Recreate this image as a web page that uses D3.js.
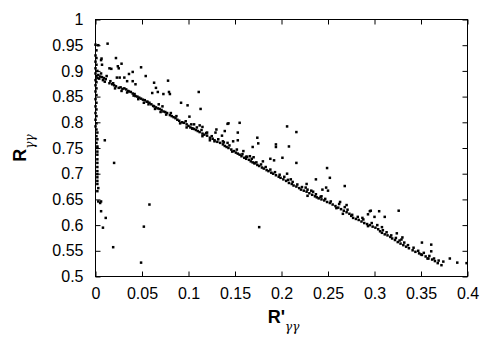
<!DOCTYPE html>
<html>
<head>
<meta charset="utf-8">
<script src="https://cdn.jsdelivr.net/npm/d3@7"></script>
<style>
  html, body { margin: 0; padding: 0; background: #fff; }
  svg { display: block; font-family: "Liberation Sans", Arial, Helvetica, sans-serif; }
</style>
</head>
<body>
<svg id="chart" width="500" height="350"></svg>
<script>
// ---- data ----
const xTicks = [0, 0.05, 0.1, 0.15, 0.2, 0.25, 0.3, 0.35, 0.4];
const yTicks = [0.5, 0.55, 0.6, 0.65, 0.7, 0.75, 0.8, 0.85, 0.9, 0.95, 1];
const xLabelMain = "R'";
const yLabelMain = "R";
const subLabel = "γγ";

// points along the x≈0 column
const leftColumn = [
  [0,0.951],[0.001,0.94],[0,0.93],[0.001,0.925],[0,0.918],[0.001,0.912],[0,0.905],[0.002,0.9],
  [0,0.895],[0.001,0.89],[0.002,0.886],[0,0.882],[0.001,0.878],[0,0.872],[0.001,0.866],[0,0.86],
  [0.001,0.853],[0,0.845],[0.001,0.838],[0,0.831],[0.001,0.825],[0,0.818],[0.001,0.812],[0,0.805],
  [0.001,0.798],[0,0.792],[0.001,0.786],[0.002,0.78],[0.001,0.773],[0.002,0.767],[0.001,0.76],
  [0.002,0.753],[0.002,0.75],[0.002,0.743],[0.002,0.737],[0.002,0.728],[0.002,0.721],[0.002,0.713],
  [0.002,0.705],[0.002,0.699],[0.002,0.693],[0.002,0.686],[0.002,0.68],[0.003,0.672],[0.002,0.666],
  [0.003,0.646],[0.005,0.643],[0.006,0.646]
];

// isolated points, lower left
const lowOutliers = [
  [0.006,0.627],[0.011,0.614],[0.008,0.595],[0.019,0.557],[0.049,0.527],[0.052,0.597],
  [0.058,0.64],[0.02,0.721],[0.01,0.765],[0.176,0.596]
];

// points above/around the band, upper left
const upperLeft = [
  [0.003,0.95],[0.013,0.953],[0.0065,0.924],[0.022,0.925],[0.007,0.912],[0.006,0.921],[0.024,0.909],
  [0.028,0.914],[0.025,0.905],[0.015,0.905],[0.017,0.904],[0.036,0.894],[0.04,0.898],[0.049,0.907],
  [0.054,0.89],[0.023,0.887],[0.026,0.887],[0.031,0.887],[0.034,0.88],[0.04,0.88],[0.043,0.874],
  [0.016,0.88],[0.019,0.876],[0.063,0.877],[0.065,0.867],[0.061,0.857],[0.067,0.859],[0.073,0.855],
  [0.079,0.859],[0.08,0.855],[0.078,0.881],[0.092,0.838],[0.099,0.833],[0.068,0.835],[0.072,0.831],
  [0.111,0.859],[0.113,0.826],[0.101,0.811],
  [0.003,0.892],[0.005,0.889],[0.007,0.888],[0.009,0.886],[0.011,0.884],[0.004,0.885],[0.008,0.882],
  [0.012,0.89],[0.006,0.895],[0.01,0.879]
];

// main dense band
const band = [
  [0.015,0.876],[0.018,0.874],[0.02,0.872],[0.022,0.87],[0.025,0.867],[0.027,0.868],[0.029,0.865],
  [0.031,0.866],[0.033,0.864],[0.035,0.861],[0.036,0.86],[0.038,0.859],[0.04,0.856],[0.042,0.855],
  [0.043,0.851],[0.045,0.85],[0.047,0.848],[0.049,0.846],[0.051,0.844],[0.053,0.843],[0.055,0.84],
  [0.056,0.84],[0.058,0.838],[0.06,0.835],[0.062,0.832],[0.063,0.831],[0.065,0.829],[0.067,0.827],
  [0.069,0.826],[0.071,0.824],[0.073,0.821],[0.075,0.82],[0.077,0.818],[0.08,0.814],[0.082,0.812],
  [0.084,0.81],[0.086,0.808],[0.088,0.805],[0.09,0.803],[0.093,0.8],[0.095,0.799],[0.098,0.796],
  [0.1,0.793],[0.102,0.79],[0.104,0.788],[0.106,0.787],[0.108,0.785],[0.11,0.783],[0.112,0.781],
  [0.115,0.778],[0.117,0.776],[0.12,0.774],[0.123,0.77],[0.126,0.768],[0.128,0.765],[0.131,0.762],
  [0.134,0.76],[0.137,0.757],[0.139,0.754],[0.141,0.752],[0.143,0.75],[0.146,0.747],[0.149,0.744],
  [0.151,0.741],[0.153,0.739],[0.155,0.737],[0.157,0.734],[0.16,0.731],[0.162,0.729],[0.165,0.727],
  [0.167,0.724],[0.169,0.722],[0.171,0.72],[0.174,0.717],[0.176,0.715],[0.179,0.712],[0.181,0.71],
  [0.184,0.707],[0.186,0.705],[0.189,0.702],[0.191,0.7],[0.194,0.697],[0.197,0.694],[0.199,0.692],
  [0.202,0.689],[0.205,0.686],[0.208,0.682],[0.211,0.68],[0.213,0.677],[0.216,0.675],[0.219,0.672],
  [0.221,0.669],[0.224,0.667],[0.227,0.665],[0.23,0.662],[0.233,0.659],[0.236,0.656],[0.238,0.654],
  [0.24,0.652],[0.243,0.65],[0.246,0.648],[0.249,0.645],[0.252,0.643],[0.255,0.64],[0.258,0.637],
  [0.261,0.634],[0.264,0.631],[0.267,0.628],[0.27,0.625],[0.273,0.622],[0.275,0.618],[0.277,0.614],
  [0.28,0.612],[0.283,0.61],[0.286,0.607],[0.289,0.604],[0.292,0.602],[0.295,0.6],[0.298,0.597],
  [0.301,0.595],[0.304,0.592],[0.306,0.588],[0.308,0.585],[0.311,0.582],[0.314,0.58],[0.317,0.577],
  [0.319,0.574],[0.322,0.571],[0.325,0.567],[0.328,0.564],[0.331,0.561],[0.334,0.558],[0.337,0.555],
  [0.341,0.551],[0.344,0.548],[0.348,0.545],[0.351,0.542],[0.355,0.539],[0.358,0.535],[0.362,0.533],
  [0.365,0.53],[0.368,0.526],[0.372,0.522]
];

// second layer of band points (band thickness)
const bandSpread = [
  [0.021,0.866],[0.028,0.861],[0.034,0.858],[0.041,0.852],[0.046,0.845],[0.052,0.838],[0.057,0.835],
  [0.064,0.826],[0.07,0.82],[0.076,0.815],[0.081,0.818],[0.087,0.812],[0.091,0.798],[0.097,0.802],
  [0.103,0.796],[0.109,0.79],[0.114,0.785],[0.119,0.779],[0.125,0.773],[0.132,0.767],[0.138,0.761],
  [0.144,0.755],[0.147,0.743],[0.152,0.747],[0.158,0.738],[0.163,0.733],[0.168,0.729],[0.173,0.722],
  [0.178,0.718],[0.183,0.713],[0.188,0.708],[0.193,0.703],[0.198,0.698],[0.203,0.694],[0.207,0.688],
  [0.212,0.684],[0.217,0.679],[0.222,0.674],[0.228,0.657],[0.232,0.667],[0.237,0.66],[0.242,0.655],
  [0.247,0.651],[0.253,0.646],[0.259,0.633],[0.262,0.641],[0.266,0.622],[0.271,0.63],[0.276,0.62],
  [0.282,0.616],[0.288,0.611],[0.293,0.598],[0.297,0.604],[0.303,0.6],[0.309,0.59],[0.313,0.586],
  [0.318,0.58],[0.323,0.575],[0.327,0.57],[0.332,0.566],[0.336,0.561],[0.342,0.556],[0.347,0.55],
  [0.353,0.546],[0.359,0.54],[0.364,0.535],[0.369,0.531]
];

// scattered points near the band, middle and right
const scatterMid = [
  [0.12,0.78],[0.115,0.773],[0.13,0.786],[0.129,0.78],[0.139,0.783],[0.143,0.798],[0.142,0.797],
  [0.155,0.799],[0.153,0.78],[0.136,0.774],[0.123,0.765],[0.128,0.763],[0.137,0.763],[0.142,0.76],
  [0.148,0.763],[0.153,0.765],[0.159,0.744],[0.174,0.77],[0.175,0.759],[0.169,0.752],[0.162,0.733],
  [0.166,0.734],[0.17,0.732],[0.171,0.721],[0.18,0.724],[0.188,0.729],[0.192,0.726],[0.194,0.752],
  [0.194,0.757],[0.201,0.731],[0.098,0.79],[0.104,0.788],[0.106,0.796],[0.112,0.794],[0.115,0.791],
  [0.206,0.792],[0.216,0.781],[0.208,0.753],[0.216,0.721],[0.249,0.711],[0.252,0.692],[0.237,0.689],
  [0.268,0.676],[0.206,0.70],[0.21,0.689],[0.226,0.673],[0.228,0.669],[0.227,0.68],[0.234,0.665],
  [0.244,0.669],[0.248,0.673],[0.25,0.667],[0.243,0.656],[0.263,0.645],[0.27,0.639],[0.268,0.635],
  [0.287,0.614],[0.293,0.621],[0.295,0.627],[0.296,0.628],[0.305,0.627],[0.326,0.628],[0.30,0.616],
  [0.311,0.616],[0.308,0.596],[0.324,0.584],[0.329,0.572],[0.33,0.576],[0.351,0.566],[0.361,0.562],
  [0.35,0.543],[0.361,0.549],[0.374,0.529],[0.381,0.535],[0.389,0.527],[0.399,0.526],[0.357,0.535]
];

const allPoints = [].concat(leftColumn, lowOutliers, upperLeft, band, bandSpread, scatterMid);

// ---- drawing ----
const svg = d3.select("#chart");
const plotLeft = 95.5, plotRight = 467.5, plotTop = 19.5, plotBottom = 276.5;

const x = d3.scaleLinear().domain([0, 0.4]).range([plotLeft, plotRight]);
const y = d3.scaleLinear().domain([0.5, 1]).range([plotBottom, plotTop]);
const fmt = v => String(+v.toFixed(2));

function styleAxis(g) {
  g.select(".domain").remove();
  g.selectAll(".tick line").attr("stroke", "#000").attr("stroke-width", 1);
  g.selectAll(".tick text").attr("fill", "#000").style("font-size", "16px")
    .style("font-family", "'Liberation Sans', Arial, Helvetica, sans-serif");
}

svg.append("g").attr("transform", `translate(0,${plotBottom})`)
  .call(d3.axisBottom(x).tickValues(xTicks).tickFormat(fmt).tickSize(-5).tickPadding(11))
  .call(styleAxis);
svg.append("g").attr("transform", `translate(0,${plotTop})`)
  .call(d3.axisTop(x).tickValues(xTicks).tickFormat("").tickSize(-5))
  .call(styleAxis);
svg.append("g").attr("transform", `translate(${plotLeft},0)`)
  .call(d3.axisLeft(y).tickValues(yTicks).tickFormat(fmt).tickSize(-5).tickPadding(12))
  .call(styleAxis);
svg.append("g").attr("transform", `translate(${plotRight},0)`)
  .call(d3.axisRight(y).tickValues(yTicks).tickFormat("").tickSize(-5))
  .call(styleAxis);

// frame
svg.append("rect")
  .attr("x", plotLeft).attr("y", plotTop)
  .attr("width", plotRight - plotLeft).attr("height", plotBottom - plotTop)
  .attr("fill", "none").attr("stroke", "#000").attr("stroke-width", 1);

// points
svg.append("g").selectAll("rect.pt").data(allPoints).join("rect")
  .attr("class", "pt")
  .attr("x", d => x(d[0]) - 1.25)
  .attr("y", d => y(d[1]) - 1.25)
  .attr("width", 2.5).attr("height", 2.5)
  .attr("fill", "#000");

// x label
const xl = svg.append("text")
  .attr("x", (plotLeft + plotRight) / 2 + 2).attr("y", 323)
  .attr("text-anchor", "middle").attr("fill", "#000");
xl.append("tspan").text(xLabelMain)
  .style("font-weight", "bold").style("font-size", "18px");
xl.append("tspan").text(subLabel).attr("dy", 8)
  .style("font-style", "italic").style("font-size", "12px")
  .style("font-family", "'DejaVu Serif', 'Liberation Serif', serif");

// y label
const yl = svg.append("text")
  .attr("transform", `translate(26,${(plotTop + plotBottom) / 2}) rotate(-90)`)
  .attr("text-anchor", "middle").attr("fill", "#000");
yl.append("tspan").text(yLabelMain)
  .style("font-weight", "bold").style("font-size", "18px");
yl.append("tspan").text(subLabel).attr("dy", 8)
  .style("font-style", "italic").style("font-size", "12px")
  .style("font-family", "'DejaVu Serif', 'Liberation Serif', serif");
</script>
</body>
</html>
